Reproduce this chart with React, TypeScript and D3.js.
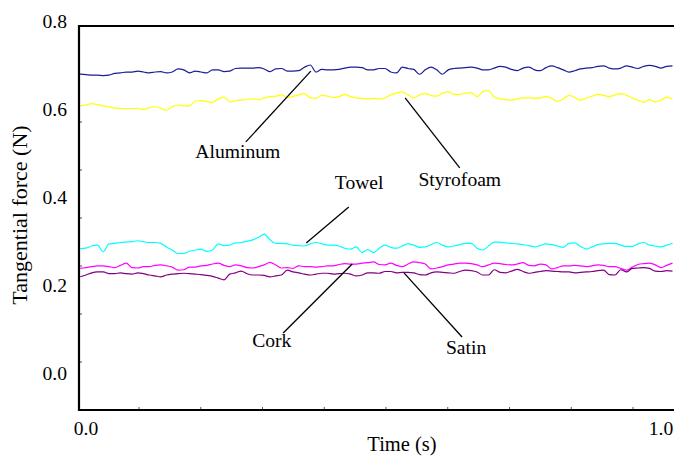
import React from "react";
import * as d3 from "d3";

// sample times (s), one reading every 0.01 s
const times = d3.range(104).map((i) => -0.01 + i * 0.01);

const aluminum = [
  0.68, 0.679, 0.678, 0.678, 0.677, 0.678, 0.682, 0.683, 0.685, 0.685, 0.687, 0.685, 0.683, 0.685, 0.686, 0.683,
  0.685, 0.692, 0.69, 0.683, 0.687, 0.685, 0.683, 0.69, 0.69, 0.686, 0.687, 0.693, 0.694, 0.694, 0.694, 0.695,
  0.692, 0.686, 0.692, 0.693, 0.687, 0.687, 0.688, 0.696, 0.701, 0.685, 0.691, 0.69, 0.69, 0.691, 0.694, 0.696,
  0.696, 0.695, 0.69, 0.69, 0.693, 0.693, 0.685, 0.683, 0.696, 0.693, 0.691, 0.68, 0.69, 0.696, 0.69, 0.68,
  0.69, 0.693, 0.694, 0.695, 0.696, 0.694, 0.69, 0.69, 0.694, 0.698, 0.696, 0.691, 0.688, 0.694, 0.696, 0.69,
  0.688, 0.695, 0.699, 0.695, 0.69, 0.685, 0.688, 0.692, 0.694, 0.695, 0.698, 0.699, 0.694, 0.692, 0.694, 0.699,
  0.696, 0.693, 0.698, 0.7, 0.698, 0.694, 0.698, 0.699,
];

const styrofoam = [
  0.608, 0.61, 0.613, 0.611, 0.608, 0.606, 0.603, 0.602, 0.602, 0.602, 0.602, 0.6, 0.604, 0.606, 0.603, 0.598,
  0.606, 0.61, 0.608, 0.608, 0.619, 0.62, 0.618, 0.616, 0.624, 0.628, 0.617, 0.62, 0.621, 0.623, 0.624, 0.622,
  0.626, 0.629, 0.63, 0.633, 0.627, 0.629, 0.633, 0.636, 0.626, 0.625, 0.632, 0.63, 0.627, 0.629, 0.634, 0.629,
  0.626, 0.625, 0.624, 0.625, 0.624, 0.626, 0.633, 0.637, 0.64, 0.633, 0.626, 0.633, 0.636, 0.632, 0.63, 0.637,
  0.64, 0.634, 0.634, 0.637, 0.638, 0.629, 0.64, 0.643, 0.628, 0.624, 0.622, 0.621, 0.624, 0.626, 0.626, 0.625,
  0.626, 0.629, 0.625, 0.618, 0.624, 0.632, 0.627, 0.621, 0.626, 0.63, 0.634, 0.632, 0.629, 0.633, 0.636, 0.632,
  0.626, 0.621, 0.616, 0.622, 0.617, 0.621, 0.628, 0.623,
];

const towel = [
  0.283, 0.284, 0.289, 0.291, 0.276, 0.294, 0.295, 0.297, 0.298, 0.299, 0.301, 0.299, 0.297, 0.297, 0.295, 0.287,
  0.28, 0.272, 0.272, 0.277, 0.28, 0.282, 0.277, 0.28, 0.294, 0.29, 0.291, 0.296, 0.297, 0.3, 0.303, 0.309,
  0.316, 0.303, 0.295, 0.295, 0.294, 0.291, 0.29, 0.289, 0.294, 0.297, 0.294, 0.291, 0.291, 0.289, 0.284, 0.282,
  0.287, 0.274, 0.281, 0.274, 0.284, 0.291, 0.286, 0.284, 0.289, 0.294, 0.291, 0.286, 0.287, 0.292, 0.297, 0.291,
  0.287, 0.289, 0.292, 0.295, 0.295, 0.284, 0.28, 0.289, 0.298, 0.298, 0.296, 0.295, 0.294, 0.292, 0.29, 0.287,
  0.29, 0.294, 0.292, 0.289, 0.286, 0.295, 0.296, 0.288, 0.282, 0.287, 0.292, 0.294, 0.295, 0.295, 0.291, 0.288,
  0.288, 0.294, 0.297, 0.291, 0.289, 0.287, 0.291, 0.295,
];

const cork = [
  0.238, 0.24, 0.242, 0.244, 0.244, 0.242, 0.24, 0.245, 0.25, 0.24, 0.239, 0.242, 0.242, 0.245, 0.246, 0.244,
  0.241, 0.234, 0.235, 0.241, 0.241, 0.244, 0.245, 0.248, 0.25, 0.245, 0.242, 0.246, 0.244, 0.24, 0.239, 0.242,
  0.246, 0.252, 0.246, 0.239, 0.24, 0.238, 0.244, 0.242, 0.242, 0.241, 0.242, 0.244, 0.244, 0.247, 0.249, 0.248,
  0.248, 0.25, 0.251, 0.253, 0.247, 0.246, 0.25, 0.245, 0.242, 0.248, 0.253, 0.251, 0.248, 0.237, 0.239, 0.242,
  0.246, 0.248, 0.25, 0.25, 0.249, 0.246, 0.242, 0.246, 0.25, 0.249, 0.247, 0.246, 0.248, 0.251, 0.245, 0.244,
  0.248, 0.246, 0.237, 0.24, 0.244, 0.244, 0.245, 0.244, 0.242, 0.244, 0.246, 0.245, 0.242, 0.242, 0.238, 0.234,
  0.241, 0.247, 0.249, 0.25, 0.246, 0.24, 0.245, 0.25,
];

const satin = [
  0.219, 0.223, 0.228, 0.23, 0.23, 0.226, 0.226, 0.228, 0.226, 0.225, 0.228, 0.226, 0.223, 0.221, 0.219, 0.223,
  0.225, 0.226, 0.227, 0.226, 0.225, 0.224, 0.222, 0.22, 0.216, 0.212, 0.225, 0.228, 0.232, 0.226, 0.223, 0.223,
  0.222, 0.219, 0.221, 0.223, 0.234, 0.23, 0.228, 0.225, 0.223, 0.225, 0.227, 0.227, 0.225, 0.226, 0.227, 0.225,
  0.221, 0.223, 0.228, 0.228, 0.227, 0.231, 0.231, 0.228, 0.229, 0.229, 0.228, 0.224, 0.223, 0.228, 0.23, 0.229,
  0.228, 0.227, 0.231, 0.234, 0.233, 0.23, 0.223, 0.223, 0.235, 0.229, 0.228, 0.232, 0.236, 0.231, 0.227, 0.229,
  0.231, 0.233, 0.232, 0.231, 0.23, 0.23, 0.228, 0.229, 0.23, 0.231, 0.233, 0.234, 0.224, 0.223, 0.235, 0.23,
  0.238, 0.239, 0.24, 0.238, 0.232, 0.231, 0.233, 0.232,
];

const seriesNames = ["Aluminum", "Styrofoam", "Towel", "Cork", "Satin"];
const seriesValues = [aluminum, styrofoam, towel, cork, satin];
const seriesColors = ["#1c1c96", "#ffff00", "#00ffff", "#ff00ff", "#800080"];

const yTickLabels = [0, 0.2, 0.4, 0.6, 0.8];
const xTickLabels = [0, 1];

// callouts: label anchor (t, v) and leader line from (t1, v1) to (t2, v2)
const callouts = [
  { text: "Aluminum", t: 0.264, v: 0.489, t1: 0.278, v1: 0.526, t2: 0.391, v2: 0.687 },
  { text: "Styrofoam", t: 0.65, v: 0.426, t1: 0.65, v1: 0.467, t2: 0.555, v2: 0.626 },
  { text: "Towel", t: 0.475, v: 0.419, t1: 0.457, v1: 0.378, t2: 0.383, v2: 0.296 },
  { text: "Cork", t: 0.323, v: 0.059, t1: 0.343, v1: 0.091, t2: 0.463, v2: 0.248 },
  { text: "Satin", t: 0.661, v: 0.043, t1: 0.654, v1: 0.082, t2: 0.553, v2: 0.228 },
];

export default function App() {
  const width = 674;
  const height = 457;
  const box = { left: 79, top: 26, right: 677, bottom: 410 };
  const font = "Liberation Serif, Tinos, DejaVu Serif, serif";
  const fs = 19.6;

  const x = d3.scaleLinear().domain([0, 1]).range([86, 661]);
  const y = d3.scaleLinear().domain([0, 0.8]).range([373, 21.5]);

  const line = d3
    .line<number>()
    .x((d, i) => x(times[i]))
    .y((d) => y(d))
    .curve(d3.curveMonotoneX);

  // small inner tick marks, evenly spaced along the frame
  const yTicks = d3.range(1, 8).map((i) => box.top + (i * (box.bottom - box.top)) / 8);
  const xTicks = d3.range(9).map((i) => 139 + i * 61.75);

  return (
    <svg
      width={width}
      height={height}
      style={{ position: "absolute", left: 0, top: 0, background: "#fff", fontFamily: font }}
    >
      {seriesValues.map((vals, k) => (
        <path
          key={seriesNames[k]}
          d={line(vals) || ""}
          fill="none"
          stroke={seriesColors[k]}
          strokeWidth={1.2}
          strokeLinejoin="round"
        />
      ))}

      {yTicks.map((ty) => (
        <line key={ty} x1={box.left} x2={box.left + 3} y1={ty} y2={ty} stroke="#555" strokeWidth={1} />
      ))}
      {xTicks.map((tx) => (
        <line key={tx} x1={tx} x2={tx} y1={box.bottom} y2={box.bottom - 3} stroke="#555" strokeWidth={1} />
      ))}

      <path
        d={`M${box.right},${box.top}H${box.left}V${box.bottom}H${box.right}`}
        fill="none"
        stroke="#000"
        strokeWidth={2.2}
      />

      {yTickLabels.map((v) => (
        <text key={v} x={67} y={y(v)} dy="0.35em" textAnchor="end" fontSize={fs}>
          {v.toFixed(1)}
        </text>
      ))}
      {xTickLabels.map((v) => (
        <text key={v} x={x(v)} y={435} textAnchor="middle" fontSize={fs}>
          {v.toFixed(1)}
        </text>
      ))}

      <text x={402} y={451} textAnchor="middle" fontSize={20.5}>
        Time (s)
      </text>
      <text transform={`translate(27,215) rotate(-90)`} textAnchor="middle" fontSize={22}>
        Tangential force (N)
      </text>

      {callouts.map((c) => (
        <g key={c.text}>
          <line x1={x(c.t1)} y1={y(c.v1)} x2={x(c.t2)} y2={y(c.v2)} stroke="#000" strokeWidth={1.3} />
          <text x={x(c.t)} y={y(c.v)} textAnchor="middle" fontSize={fs}>
            {c.text}
          </text>
        </g>
      ))}
    </svg>
  );
}
